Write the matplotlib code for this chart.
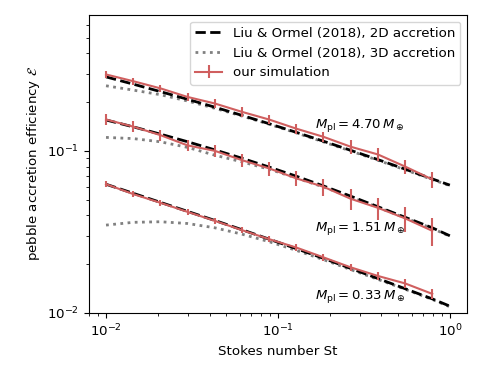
import matplotlib
matplotlib.use("Agg")
import matplotlib.pyplot as plt

# Stokes numbers of simulations
st_sim = [0.01, 0.01439, 0.02071, 0.02981, 0.0429, 0.06174, 0.08886, 0.1279,
          0.1841, 0.2649, 0.3812, 0.5487, 0.79]
# Stokes numbers for theory curves
st_th = [0.01, 0.01439, 0.02071, 0.02981, 0.0429, 0.06174, 0.08886, 0.1279,
         0.1841, 0.2649, 0.3812, 0.5487, 0.79, 1.0]

masses = ["4.70", "1.51", "0.33"]

# simulation results
sim_top = [0.296, 0.269, 0.243, 0.215, 0.196, 0.174, 0.156, 0.137, 0.122, 0.106,
           0.095, 0.080, 0.0666]
err_top = [0.0139, 0.0135, 0.0131, 0.0129, 0.0122, 0.0113, 0.0106, 0.0097, 0.0090,
           0.0098, 0.0090, 0.0080, 0.0079]
sim_mid = [0.156, 0.141, 0.125, 0.108, 0.100, 0.0876, 0.0779, 0.0676, 0.0600, 0.0506,
           0.0445, 0.0383, 0.0321]
err_mid = [0.0117, 0.0110, 0.0100, 0.0089, 0.0088, 0.0082, 0.0077, 0.0072, 0.0071,
           0.0072, 0.0069, 0.0068, 0.0062]
sim_bot = [0.0623, 0.0541, 0.0478, 0.0420, 0.0370, 0.0324, 0.0285, 0.0253, 0.0220,
           0.0191, 0.0169, 0.0152, 0.0131]
err_bot = [0.0029, 0.0025, 0.0022, 0.0020, 0.0017, 0.0015, 0.0013, 0.0012, 0.0010,
           0.0009, 0.00086, 0.00087, 0.00084]

# Liu & Ormel (2018), 2D
lo2d_top = [0.286, 0.258, 0.232, 0.208, 0.186, 0.1655, 0.147, 0.130, 0.1146, 0.1007,
            0.0883, 0.0771, 0.0671, 0.0614]
lo2d_mid = [0.155, 0.1406, 0.1268, 0.1138, 0.1014, 0.0900, 0.0794, 0.0697, 0.0607,
            0.0525, 0.0452, 0.0389, 0.0335, 0.0299]
lo2d_bot = [0.0622, 0.0547, 0.0481, 0.0423, 0.0372, 0.0326, 0.0285, 0.0249, 0.0217,
            0.0188, 0.0163, 0.0141, 0.0122, 0.0110]
# Liu & Ormel (2018), 3D
lo3d_top = [0.252, 0.237, 0.222, 0.203, 0.183, 0.164, 0.146, 0.129, 0.1135, 0.0998,
            0.0875, 0.0764, 0.0665, 0.0609]
lo3d_mid = [0.121, 0.119, 0.1137, 0.105, 0.094, 0.0855, 0.0770, 0.0680, 0.0598,
            0.0519, 0.0448, 0.0386, 0.0332, 0.0297]
lo3d_bot = [0.0348, 0.0362, 0.0365, 0.0356, 0.0335, 0.0306, 0.0275, 0.0243, 0.0213,
            0.0185, 0.0161, 0.0140, 0.0121, 0.0109]

label_y = [0.144, 0.0333, 0.01256]
label_x = 0.165

plt.rcParams['font.size'] = 9.6
fig = plt.figure(figsize=(4.8, 3.82), dpi=100)
ax = fig.add_axes([0.185, 0.181, 0.788, 0.780])

red = '#d05f5f'
groups = [(sim_top, err_top, lo2d_top, lo3d_top),
          (sim_mid, err_mid, lo2d_mid, lo3d_mid),
          (sim_bot, err_bot, lo2d_bot, lo3d_bot)]
for i, (s, e, l2, l3) in enumerate(groups):
    ax.plot(st_th, l3, color='gray', ls=(0, (1, 1.6)), lw=2,
            label='Liu & Ormel (2018), 3D accretion' if i == 0 else None, zorder=2)
    ax.plot(st_th, l2, color='black', ls=(0, (3.7, 1.6)), lw=2,
            label='Liu & Ormel (2018), 2D accretion' if i == 0 else None, zorder=3)
    ax.errorbar(st_sim, s, yerr=e, color=red, lw=1.5, elinewidth=1.5, capsize=0,
                label='our simulation' if i == 0 else None, zorder=4)
    ax.text(label_x, label_y[i], r'$M_\mathrm{pl} = %s\,M_\oplus$' % masses[i],
            ha='left', va='center', fontsize=9.5)

ax.set_xscale('log')
ax.set_yscale('log')
ax.set_xlim(0.00794, 1.259)
ax.set_ylim(0.01, 0.69)
ax.set_xlabel('Stokes number St')
ax.set_ylabel(r'pebble accretion efficiency $\mathcal{E}$')

h, l = ax.get_legend_handles_labels()
order = [l.index('Liu & Ormel (2018), 2D accretion'),
         l.index('Liu & Ormel (2018), 3D accretion'),
         l.index('our simulation')]
ax.legend([h[k] for k in order], [l[k] for k in order], loc='upper right')

fig.savefig('out.png', dpi=100)
